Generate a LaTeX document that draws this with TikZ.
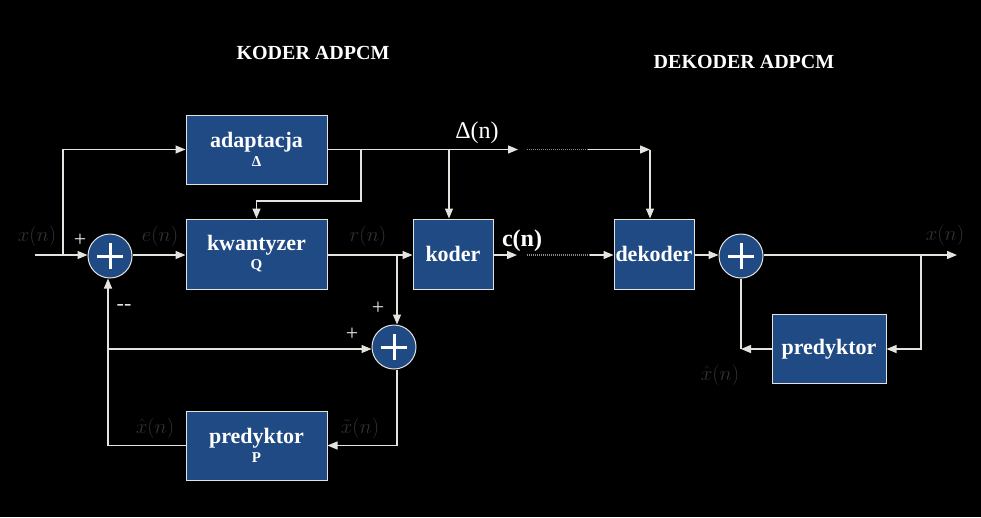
\documentclass[tikz,border=0pt]{standalone}
\usepackage{fontspec}
\setmainfont{Liberation Serif}
\usetikzlibrary{arrows.meta,calc}
\definecolor{boxblue}{RGB}{32,74,132}
\definecolor{ln}{RGB}{228,228,222}
\definecolor{dim}{RGB}{50,50,50}
\newcommand\subtxt[1]{{\bfseries\fontsize{15}{16}\selectfont #1}}
\begin{document}
\begin{tikzpicture}[x=1pt,y=-1pt,
  wire/.style={draw=ln,line width=1.3pt},
  arr/.style={wire,-{Triangle[length=10pt,width=8pt]}},
  dots/.style={draw=ln!60!black,line width=1.3pt,dash pattern=on 1pt off 1pt,line cap=butt},
  blk/.style={draw=ln,line width=1pt,fill=boxblue,text=white,
    font=\bfseries\fontsize{22}{23}\selectfont,align=center,inner sep=0pt},
  summ/.style={circle,draw=ln,line width=1pt,fill=boxblue,minimum size=44pt,inner sep=0pt,
    path picture={\draw[white,line width=3pt]
      ($(path picture bounding box.center)+(-13pt,0)$) -- ($(path picture bounding box.center)+(13pt,0)$)
      ($(path picture bounding box.center)+(0,-13pt)$) -- ($(path picture bounding box.center)+(0,13pt)$);}},
  mlab/.style={text=dim,font=\fontsize{20}{22}\selectfont,inner sep=1pt},
  sgn/.style={text=ln,font=\fontsize{22}{24}\selectfont},
  title/.style={text=white,font=\bfseries\fontsize{20}{22}\selectfont}]
\fill[black] (0,0) rectangle (981,517);
\useasboundingbox (0,0) rectangle (981,517);

% titles
\node[title] (t1) at (313,53) {KODER ADPCM};
\node[title] (t2) at (744,62) {DEKODER ADPCM};

% blocks
\node[blk,minimum width=141pt,minimum height=69pt] (adapt) at (256.5,149.5) {adaptacja\\[-4pt]\subtxt{Δ}};
\node[blk,minimum width=141pt,minimum height=70pt] (kwant) at (256.5,254) {kwantyzer\\[-4pt]\subtxt{Q}};
\node[blk,minimum width=80pt,minimum height=70pt] (koder) at (453,254) {koder};
\node[blk,minimum width=141pt,minimum height=69pt] (predP) at (256.5,445.5) {predyktor\\[-4pt]\subtxt{P}};
\node[blk,minimum width=80pt,minimum height=70pt] (dek) at (654,254) {dekoder};
\node[blk,minimum width=114pt,minimum height=69pt] (pred2) at (829,349) {predyktor};

% summing junctions
\node[summ] (sum1) at (110,256) {};
\node[summ] (sum2) at (394,347) {};
\node[summ] (sum3) at (741,256) {};

% coordinates
\coordinate (in) at (35,255);
\coordinate (b1) at (63,255);
\coordinate (b2) at (397,255);
\coordinate (c1) at (108,349);
\coordinate (d1) at (518,149.5);
\coordinate (d2) at (527,149.5);
\coordinate (d3) at (588,149.5);
\coordinate (d4) at (650,149.5);
\coordinate (e1) at (361,149.5);
\coordinate (e2) at (361,201);
\coordinate (e3) at (256.5,201);
\coordinate (f1) at (449,149.5);
\coordinate (g1) at (517,255);
\coordinate (g2) at (527,255);
\coordinate (g3) at (590,255);
\coordinate (out) at (957,255);
\coordinate (h1) at (921,255);
\coordinate (k1) at (108,445.5);

% encoder connectors
\draw[wire] (in) -- (b1);
\draw[arr] (b1) -- (sum1.west |- b1);
\draw[arr] (b1) |- (adapt.west);
\draw[arr] (sum1.east |- b1) -- (kwant.west |- b1);
\draw[arr] (kwant.east |- b1) -- (koder.west |- b1);
\draw[arr] (b2) -- (b2 |- sum2.north);
\draw[arr] (c1) -- (sum2.west |- c1);
\draw[wire] (predP.west) -- (k1);
\draw[arr] (k1) -- (k1 |- sum1.south);
\draw[arr] (b2 |- sum2.south) |- (predP.east);
\draw[arr] (adapt.east) -- (d1);
\draw[dots] (d2) -- (d3);
\draw[arr] (d3) -- (d4);
\draw[arr] (d4) -- (d4 |- dek.north);
\draw[arr] (e1) -- (e2) -- (e3) -- (kwant.north);
\draw[arr] (f1) -- (f1 |- koder.north);
\draw[arr] (koder.east |- g1) -- (g1);
\draw[dots] (g2) -- (g3);
\draw[arr] (g3) -- (dek.west |- g3);

% decoder connectors
\draw[arr] (dek.east |- g1) -- (sum3.west |- g1);
\draw[arr] (sum3.east |- g1) -- (out);
\draw[arr] (h1) |- (pred2.east);
\draw[wire] (sum3.south) -- (sum3 |- pred2);
\draw[arr] (pred2.west) -- (sum3 |- pred2);

% labels
\node[mlab] (lx) at (37,236) {$x(n)$};
\node[mlab] (le) at (160,236) {$e(n)$};
\node[mlab] (lr) at (368,236) {$r(n)$};
\node[mlab] (lxh) at (155,428) {$\hat{x}(n)$};
\node[mlab] (lxt) at (360,428) {$\tilde{x}(n)$};
\node[mlab] (lxo) at (945,235) {$x(n)$};
\node[mlab] (lxh2) at (720,375) {$\hat{x}(n)$};
\node[sgn] (p1) at (80,240) {+};
\node[sgn] (m1) at (124,307) {-{}-};
\node[sgn] (p2) at (378,308) {+};
\node[sgn] (p3) at (352,334) {+};
\node[text=white,font=\fontsize{24}{26}\selectfont] (ld) at (477,133) {Δ(n)};
\node[text=white,font=\bfseries\fontsize{24}{26}\selectfont] (lc) at (522,241) {c(n)};
\end{tikzpicture}
\end{document}
